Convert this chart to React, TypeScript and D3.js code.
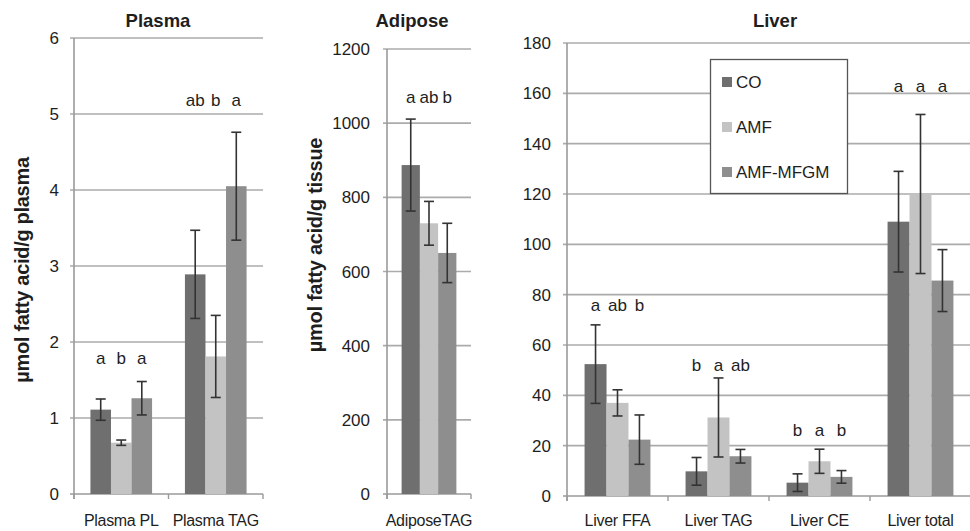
import React from "react";
import * as d3 from "d3";

const seriesNames = ["CO", "AMF", "AMF-MFGM"];
const seriesColors = ["#6f6f6f", "#c3c3c3", "#8e8e8e"];

// Plasma panel
const plasmaCategories = ["Plasma PL", "Plasma TAG"];
const plasmaCO = [1.11, 2.89];
const plasmaCOErr = [0.14, 0.58];
const plasmaAMF = [0.675, 1.81];
const plasmaAMFErr = [0.035, 0.54];
const plasmaMFGM = [1.26, 4.05];
const plasmaMFGMErr = [0.22, 0.71];
const plasmaLetters = [["a", "b", "a"], ["ab", "b", "a"]];
const plasmaLetterLevels = [1.79, 5.18];
const plasmaTicks = [0, 1, 2, 3, 4, 5, 6];

// Adipose panel
const adiposeCategories = ["AdiposeTAG"];
const adiposeCO = [887];
const adiposeCOErr = [124];
const adiposeAMF = [730];
const adiposeAMFErr = [59];
const adiposeMFGM = [650];
const adiposeMFGMErr = [80];
const adiposeLetters = [["a", "ab", "b"]];
const adiposeLetterLevels = [1071];
const adiposeTicks = [0, 200, 400, 600, 800, 1000, 1200];

// Liver panel
const liverCategories = ["Liver FFA", "Liver TAG", "Liver CE", "Liver total"];
const liverCO = [52.4, 9.8, 5.3, 109];
const liverCOErr = [15.6, 5.5, 3.5, 20];
const liverAMF = [37, 31.2, 13.8, 120];
const liverAMFErr = [5.2, 15.7, 4.8, 31.6];
const liverMFGM = [22.4, 15.8, 7.6, 85.6];
const liverMFGMErr = [9.8, 2.7, 2.5, 12.3];
const liverLetters = [["a", "ab", "b"], ["b", "a", "ab"], ["b", "a", "b"], ["a", "a", "a"]];
const liverLetterLevels = [75.8, 52, 26.3, 163];
const liverTicks = [0, 20, 40, 60, 80, 100, 120, 140, 160, 180];

const FONT = "'Liberation Sans', Arial, sans-serif";
const TEXT = "#1e1e1e";
const GRID = "#ababab";
const AXIS = "#9a9a9a";

type PanelProps = {
  title: string;
  titleX: number;
  yLabel?: string;
  yLabelX?: number;
  yLabelY?: number;
  categories: string[];
  means: number[][];
  errs: number[][];
  letters: string[][];
  letterLevels: number[];
  ticks: number[];
  xRange: [number, number];
  yRange: [number, number];
  tickRight: number;
};

function Panel(p: PanelProps) {
  const yMax = p.ticks[p.ticks.length - 1];
  const y = d3.scaleLinear().domain([0, yMax]).range(p.yRange);
  const x0 = d3.scaleBand<string>().domain(p.categories).range(p.xRange).padding(0);
  const x1 = d3
    .scaleBand<string>()
    .domain(seriesNames)
    .range([0, x0.bandwidth()])
    .paddingInner(0)
    .paddingOuter(0.8);
  const bw = x1.bandwidth();
  const [xa, xb] = p.xRange;
  const boundaries = p.categories.map((c) => x0(c) as number).concat([xb]);
  return (
    <g>
      <text x={p.titleX} y={27} textAnchor="middle" fontFamily={FONT} fontWeight="bold" fontSize={18.5} fill={TEXT}>
        {p.title}
      </text>
      {p.yLabel && (
        <text
          transform={`translate(${p.yLabelX},${p.yLabelY}) rotate(-90)`}
          textAnchor="middle"
          fontFamily={FONT}
          fontWeight="bold"
          fontSize={20}
          fill={TEXT}
          letterSpacing={-0.3}
        >
          {p.yLabel}
        </text>
      )}
      {p.ticks.map((t) => (
        <g key={t}>
          {t > 0 && <line x1={xa - 4} x2={xb} y1={y(t)} y2={y(t)} stroke={GRID} strokeWidth={1.6} />}
          <text x={p.tickRight} y={y(t) + 6} textAnchor="end" fontFamily={FONT} fontSize={17} fill={TEXT}>
            {t}
          </text>
        </g>
      ))}
      <line x1={xa} x2={xa} y1={p.yRange[1]} y2={p.yRange[0] + 5} stroke={AXIS} strokeWidth={1.6} />
      <line x1={xa - 4} x2={xb} y1={p.yRange[0]} y2={p.yRange[0]} stroke={AXIS} strokeWidth={1.6} />
      {boundaries.map((bx, i) => (
        <line key={i} x1={bx} x2={bx} y1={p.yRange[0]} y2={p.yRange[0] + 5} stroke={AXIS} strokeWidth={1.4} />
      ))}
      {p.categories.map((c, ci) => (
        <g key={c}>
          {seriesNames.map((s, si) => {
            const bx = (x0(c) as number) + (x1(s) as number);
            const v = p.means[si][ci];
            const e = p.errs[si][ci];
            const cx = bx + bw / 2;
            return (
              <g key={s}>
                <rect x={bx} y={y(v)} width={bw} height={y(0) - y(v)} fill={seriesColors[si]} />
                <line x1={cx} x2={cx} y1={y(v + e)} y2={y(Math.max(0, v - e))} stroke="#333" strokeWidth={1.6} />
                <line x1={cx - 5} x2={cx + 5} y1={y(v + e)} y2={y(v + e)} stroke="#333" strokeWidth={1.6} />
                <line x1={cx - 5} x2={cx + 5} y1={y(Math.max(0, v - e))} y2={y(Math.max(0, v - e))} stroke="#333" strokeWidth={1.6} />
                <text
                  x={cx}
                  y={y(p.letterLevels[ci]) + 6}
                  textAnchor="middle"
                  fontFamily={FONT}
                  fontSize={17}
                  fill={TEXT}
                >
                  {p.letters[ci][si]}
                </text>
              </g>
            );
          })}
          <text
            x={(x0(c) as number) + x0.bandwidth() / 2}
            y={526}
            textAnchor="middle"
            fontFamily={FONT}
            fontSize={16}
            fill={TEXT}
            letterSpacing={-0.3}
          >
            {c}
          </text>
        </g>
      ))}
    </g>
  );
}

export default function App() {
  const legendY = [82, 127, 172];
  return (
    <svg
      width={970}
      height={531}
      style={{ position: "absolute", left: 0, top: 0, background: "#fff" }}
    >
      <rect x={0} y={0} width={970} height={531} fill="#fff" />
      <Panel
        title="Plasma"
        titleX={158}
        yLabel="µmol fatty acid/g plasma"
        yLabelX={29}
        yLabelY={270}
        categories={plasmaCategories}
        means={[plasmaCO, plasmaAMF, plasmaMFGM]}
        errs={[plasmaCOErr, plasmaAMFErr, plasmaMFGMErr]}
        letters={plasmaLetters}
        letterLevels={plasmaLetterLevels}
        ticks={plasmaTicks}
        xRange={[74, 263]}
        yRange={[494, 38]}
        tickRight={59}
      />
      <Panel
        title="Adipose"
        titleX={412}
        yLabel="µmol fatty acid/g tissue"
        yLabelX={322}
        yLabelY={245}
        categories={adiposeCategories}
        means={[adiposeCO, adiposeAMF, adiposeMFGM]}
        errs={[adiposeCOErr, adiposeAMFErr, adiposeMFGMErr]}
        letters={adiposeLetters}
        letterLevels={adiposeLetterLevels}
        ticks={adiposeTicks}
        xRange={[387, 471]}
        yRange={[494, 49]}
        tickRight={370}
      />
      <Panel
        title="Liver"
        titleX={775}
        categories={liverCategories}
        means={[liverCO, liverAMF, liverMFGM]}
        errs={[liverCOErr, liverAMFErr, liverMFGMErr]}
        letters={liverLetters}
        letterLevels={liverLetterLevels}
        ticks={liverTicks}
        xRange={[567, 971]}
        yRange={[496, 43]}
        tickRight={551}
      />
      <g>
        <rect x={710.5} y={59.5} width={137} height={134} fill="#fff" stroke="#555" strokeWidth={1.3} />
        {seriesNames.map((s, i) => (
          <g key={s}>
            <rect x={722} y={legendY[i] - 5} width={10} height={10} fill={seriesColors[i]} />
            <text x={736} y={legendY[i] + 6} fontFamily={FONT} fontSize={17} fill={TEXT}>
              {s}
            </text>
          </g>
        ))}
      </g>
    </svg>
  );
}
